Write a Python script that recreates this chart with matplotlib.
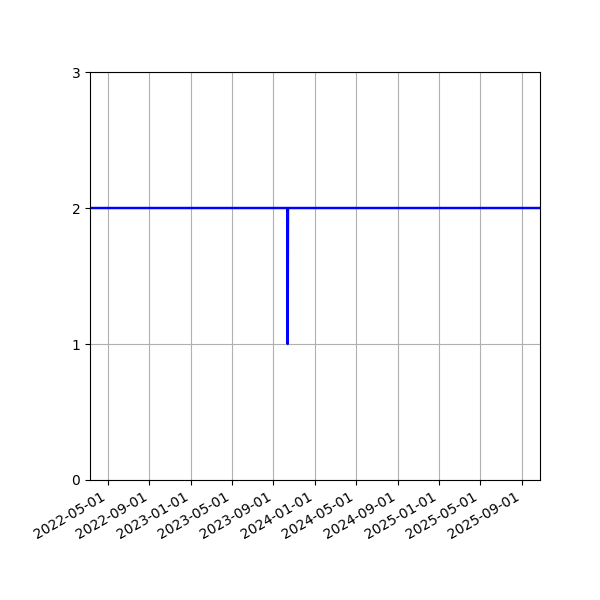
import matplotlib
matplotlib.use("Agg")
import matplotlib.pyplot as plt
import matplotlib.dates as mdates
import pandas as pd

dates = pd.to_datetime(["2022-03-10", "2023-10-12", "2023-10-13", "2023-10-14", "2025-10-25"])
values = [2, 2, 1, 2, 2]

fig, ax = plt.subplots(figsize=(6, 6), dpi=100)
ax.plot(dates, values, color="blue", linewidth=1.75)

ax.set_xlim(dates[0], dates[-1])
ax.set_ylim(0, 3)
ax.set_yticks([0, 1, 2, 3])
ax.xaxis.set_major_locator(mdates.MonthLocator(bymonth=[1, 5, 9]))
ax.xaxis.set_major_formatter(mdates.DateFormatter("%Y-%m-%d"))
ax.grid(True)
fig.autofmt_xdate()
fig.subplots_adjust(left=0.15, right=0.9, top=0.88, bottom=0.2)

fig.savefig("out.png")
